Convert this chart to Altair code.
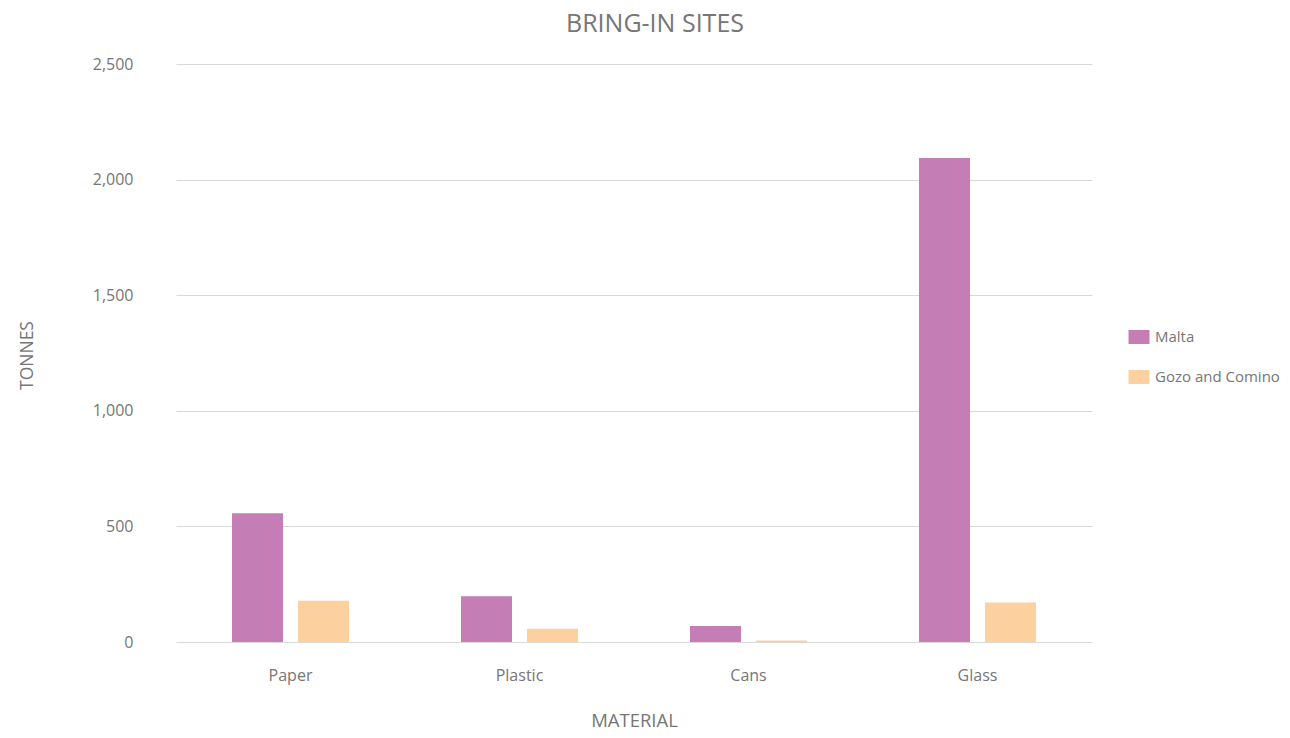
import altair as alt
import pandas as pd

materials = ["Paper", "Plastic", "Cans", "Glass"]
series = ["Malta", "Gozo and Comino"]
malta = [557, 198, 69, 2093]
gozo = [178, 57, 7, 171]
colors = ["#C57DB5", "#FCD09F"]

rows = []
for i, m in enumerate(materials):
    rows.append({"Material": m, "Region": series[0], "Tonnes": malta[i]})
    rows.append({"Material": m, "Region": series[1], "Tonnes": gozo[i]})
df = pd.DataFrame(rows)

FONT = "Open Sans"
GRAY = "#767676"

chart = alt.Chart(df).mark_bar().encode(
    x=alt.X("Material:N", sort=materials,
            scale=alt.Scale(paddingInner=0.489, paddingOuter=0.2445),
            axis=alt.Axis(title="MATERIAL", labelAngle=0, ticks=False, domain=False,
                          labelPadding=25, labelFontSize=16,
                          titleFontSize=18.5, titleFontWeight="normal",
                          titleX=458, titleY=84, titleAlign="center",
                          titleBaseline="alphabetic")),
    xOffset=alt.XOffset("Region:N", sort=series,
                        scale=alt.Scale(paddingInner=0.227, paddingOuter=0)),
    y=alt.Y("Tonnes:Q",
            scale=alt.Scale(domain=[0, 2500]),
            axis=alt.Axis(title="TONNES", values=[0, 500, 1000, 1500, 2000, 2500],
                          format=",.0f", ticks=False, domain=False, labelPadding=43,
                          labelFontSize=16, titleFontSize=17.5,
                          titleFontWeight="normal", titleX=-149, titleY=291,
                          titleAlign="center", titleBaseline="middle", titleAngle=270)),
    color=alt.Color("Region:N", sort=series,
                    scale=alt.Scale(domain=series, range=colors),
                    legend=alt.Legend(title=None, orient="none", legendX=949, legendY=259,
                                      symbolType="M-0.75,-0.5L0.75,-0.5L0.75,0.5L-0.75,0.5Z",
                                      symbolSize=784, symbolStrokeWidth=0,
                                      labelFontSize=15, rowPadding=18, padding=0,
                                      labelOffset=2)),
).properties(
    width=916,
    height=578,
    title=alt.TitleParams("BRING-IN SITES", fontSize=25, fontWeight="normal",
                          color=GRAY, font=FONT, offset=19, dx=21),
    autosize=alt.AutoSizeParams(type="none"),
    padding={"left": 168, "top": 56, "right": 190, "bottom": 88},
).configure_view(
    stroke=None
).configure_axis(
    labelFont=FONT, titleFont=FONT, labelColor=GRAY, titleColor=GRAY,
    gridColor="#D9D9D9", gridWidth=1
).configure_axisX(
    grid=False
).configure_legend(
    labelFont=FONT, labelColor=GRAY
)

chart.save("out.html", embed_options={"renderer": "svg", "actions": False})
